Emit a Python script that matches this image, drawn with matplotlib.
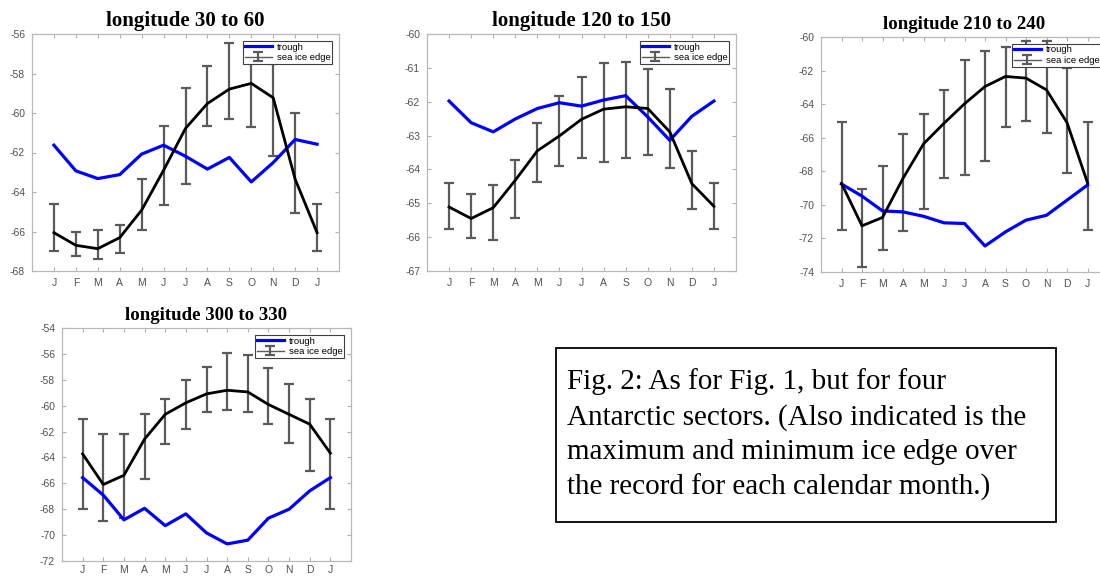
import numpy as np
import matplotlib
matplotlib.use("Agg")
import matplotlib.pyplot as plt
from matplotlib.patches import Rectangle

plt.rcParams['font.family'] = ['Liberation Sans', 'DejaVu Sans']
plt.rcParams['axes.unicode_minus'] = False

months = ["J", "F", "M", "A", "M", "J", "J", "A", "S", "O", "N", "D", "J"]

# sector 30-60
titulo1 = "longitude 30 to 60"
trough1 = [-61.63, -62.93, -63.32, -63.12, -62.08, -61.63, -62.19, -62.84, -62.25, -63.49, -62.51, -61.34, -61.58]
edge1 = [-66.06, -66.70, -66.87, -66.31, -64.92, -62.90, -60.78, -59.52, -58.79, -58.50, -59.23, -63.35, -66.06]
edge1_max = [-64.59, -66.02, -65.94, -65.68, -63.32, -60.66, -58.75, -57.61, -56.44, -56.80, -57.50, -59.99, -64.59]
edge1_min = [-66.99, -67.26, -67.37, -67.09, -65.94, -64.67, -63.61, -60.65, -60.28, -60.70, -62.19, -65.06, -66.99]

# sector 120-150
titulo2 = "longitude 120 to 150"
trough2 = [-61.98, -62.62, -62.89, -62.51, -62.20, -62.03, -62.13, -61.95, -61.82, -62.45, -63.14, -62.43, -61.98]
edge2 = [-65.11, -65.45, -65.13, -64.32, -63.45, -63.01, -62.52, -62.22, -62.15, -62.20, -62.89, -64.42, -65.09]
edge2_max = [-64.40, -64.73, -64.47, -63.71, -62.62, -61.83, -61.28, -60.85, -60.82, -61.02, -61.63, -63.46, -64.40]
edge2_min = [-65.75, -66.02, -66.09, -65.44, -64.36, -63.89, -63.66, -63.79, -63.66, -63.56, -63.97, -65.16, -65.75]

# sector 210-240
titulo3 = "longitude 210 to 240"
trough3 = [-68.76, -69.48, -70.36, -70.42, -70.68, -71.07, -71.11, -72.45, -71.61, -70.91, -70.62, -69.72, -68.82]
edge3 = [-68.72, -71.25, -70.75, -68.42, -66.37, -65.14, -63.98, -62.95, -62.35, -62.45, -63.15, -65.10, -68.68]
edge3_max = [-65.04, -69.08, -67.67, -65.78, -64.58, -63.15, -61.39, -60.86, -60.62, -60.26, -60.26, -61.85, -65.04]
edge3_min = [-71.47, -73.70, -72.71, -71.55, -70.22, -68.42, -68.22, -67.37, -65.38, -64.98, -65.70, -68.13, -71.47]

# sector 300-330
titulo4 = "longitude 300 to 330"
trough4 = [-65.56, -66.91, -68.82, -67.93, -69.27, -68.36, -69.83, -70.68, -70.39, -68.69, -68.00, -66.58, -65.56]
edge4 = [-63.73, -66.09, -65.38, -62.58, -60.67, -59.78, -59.09, -58.81, -58.94, -59.91, -60.67, -61.43, -63.67]
edge4_max = [-61.05, -62.20, -62.20, -60.67, -59.45, -58.00, -57.03, -55.96, -56.09, -57.11, -58.30, -59.52, -61.05]
edge4_min = [-68.00, -68.89, -68.69, -65.63, -62.96, -61.82, -60.47, -60.36, -60.47, -61.43, -62.91, -65.05, -68.00]

legenda = "Fig. 2: As for Fig. 1, but for four\nAntarctic sectors. (Also indicated is the\nmaximum and minimum ice edge over\nthe record for each calendar month.)"

W, H = 1100, 576


def painel(fig, caixa, titulo, tam_titulo, trough, edge, emax, emin, ylim, passo, pad_x=5):
    l, t, r, b = caixa
    ax = fig.add_axes([l / W, 1 - b / H, (r - l) / W, (b - t) / H])
    x = np.arange(1, len(months) + 1)
    edge = np.array(edge)
    yerr = [edge - np.array(emin), np.array(emax) - edge]
    ax.plot(x, trough, color="#0000ff", lw=2.3, label="trough", zorder=3)
    ax.errorbar(x, edge, yerr=yerr, color="#5a5a5a", lw=1.0, elinewidth=1.6,
                capsize=3.5, capthick=1.6, label="sea ice edge", zorder=2)
    ax.plot(x, edge, color="black", lw=2.0, zorder=4)
    ax.set_xlim(0, 14)
    ax.set_ylim(*ylim)
    ax.set_xticks(x)
    ax.set_xticklabels(months)
    ax.set_yticks(np.arange(ylim[0], ylim[1] + 0.01, passo))
    ax.tick_params(direction="in", length=3, width=0.8, colors="#b0b0b0",
                   labelcolor="#505050", labelsize=7.5, top=True, right=True, pad=5)
    ax.tick_params(axis="x", pad=pad_x)
    for s in ax.spines.values():
        s.set_color("#b8b8b8")
        s.set_linewidth(0.9)
    ax.set_title(titulo, fontsize=tam_titulo, fontweight="bold",
                 family=["Liberation Serif", "DejaVu Serif"], pad=6)
    leg = ax.legend(loc="upper right", fontsize=6.8, fancybox=False, framealpha=1,
                    edgecolor="#404040", handlelength=2.8, handletextpad=0.55,
                    borderpad=0.2, labelspacing=0.15, borderaxespad=0.7)
    leg.get_frame().set_linewidth(0.8)
    leg.set_zorder(10)
    return ax


fig = plt.figure(figsize=(11, 5.76), dpi=100)

painel(fig, (32, 34, 339, 271), titulo1, 15, trough1, edge1, edge1_max, edge1_min, (-68, -56), 2)
painel(fig, (427, 34, 736, 271), titulo2, 15, trough2, edge2, edge2_max, edge2_min, (-67, -60), 1)
painel(fig, (821, 37, 1108, 272), titulo3, 13.6, trough3, edge3, edge3_max, edge3_min, (-74, -60), 2)
painel(fig, (62, 328, 351, 561), titulo4, 13.6, trough4, edge4, edge4_max, edge4_min, (-72, -54), 2, pad_x=3)

# caixa da legenda da figura
fig.patches.append(Rectangle((556 / W, 1 - 522 / H), 500 / W, 174 / H, transform=fig.transFigure,
                             fill=False, edgecolor="black", linewidth=1.3))
fig.text(567 / W, 1 - 368 / H, legenda, fontsize=21, va="top", ha="left",
         family=["Liberation Serif", "DejaVu Serif"], linespacing=1.42)

fig.savefig("out.png", dpi=100)
